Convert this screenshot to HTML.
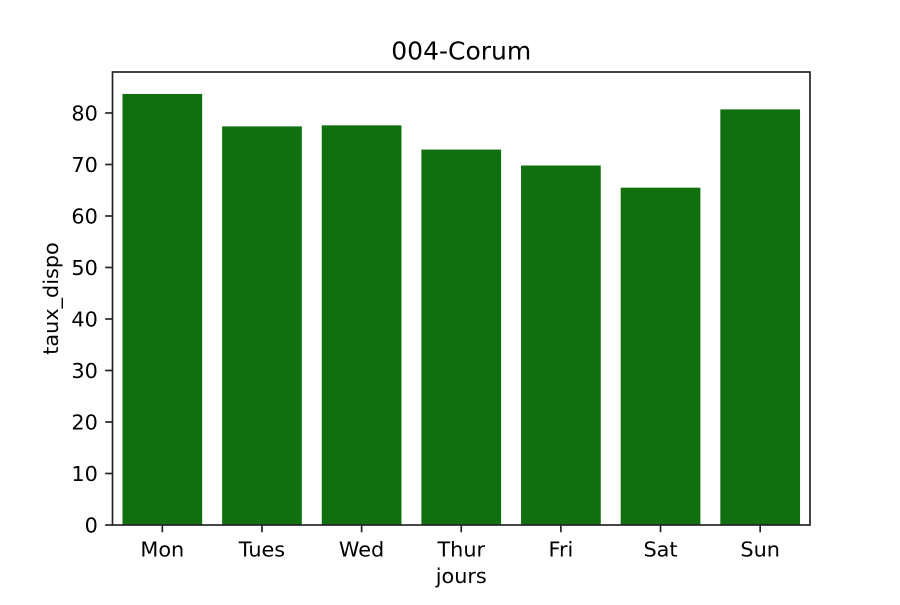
<!DOCTYPE html>
<html><head><meta charset="utf-8"><style>
body{margin:0;background:#fff;}
svg text{font-family:"DejaVu Sans","Liberation Sans",sans-serif;fill:#000;}
</style></head><body>
<svg id="chart" width="900" height="600" viewBox="0 0 900 600">
<rect width="900" height="600" fill="#fff"/>
<g id="marks"></g>
<g id="axes"></g>
</svg>
<script>
const categories = ["Mon","Tues","Wed","Thur","Fri","Sat","Sun"];
const values = [83.7, 77.4, 77.6, 72.9, 69.8, 65.5, 80.7];
const yTicks = [0,10,20,30,40,50,60,70,80];
const title = "004-Corum";
const xLabel = "jours";
const yLabel = "taux_dispo";

const L=112.5, R=810, T=72, B=525, yMax=87.96;
const NS="http://www.w3.org/2000/svg";
const marks=document.getElementById('marks'), axes=document.getElementById('axes');
const step=(R-L)/categories.length;
const x=i=>L+step*(i+0.5);
const y=v=>B-(B-T)*v/yMax;
function mk(tag,attrs,parent){const e=document.createElementNS(NS,tag);for(const k in attrs)e.setAttribute(k,attrs[k]);parent.appendChild(e);return e;}

values.forEach((v,i)=>{
  const w=step*0.8;
  const r=mk('rect',{x:x(i)-w/2,y:y(v),width:w,height:B-y(v),fill:'#107010'},marks);
  
  
  const t=mk('line',{x1:x(i),x2:x(i),y1:B,y2:B+7.3,stroke:'#222','stroke-width':1.67},axes);
  
  
  const lb=mk('text',{x:x(i),y:B+31.5,'text-anchor':'middle',style:'font-size:20.8px'},axes);
  lb.textContent=categories[i];
  
  
});
yTicks.forEach(v=>{
  const t=mk('line',{x1:L-7.3,x2:L,y1:y(v),y2:y(v),stroke:'#222','stroke-width':1.67},axes);
  
  
  const lb=mk('text',{x:L-14.6,y:y(v)+7.5,'text-anchor':'end',style:'font-size:20.8px'},axes);
  lb.textContent=v;
  
  
});
const f=mk('rect',{x:L,y:T,width:R-L,height:B-T,fill:'none',stroke:'#222','stroke-width':1.67},axes);


const tt=mk('text',{x:(L+R)/2,y:T-12.5,'text-anchor':'middle',style:'font-size:25px'},axes);
tt.textContent=title;


const xl=mk('text',{x:(L+R)/2,y:583,'text-anchor':'middle',style:'font-size:20.8px'},axes);
xl.textContent=xLabel;


const yl=mk('text',{x:0,y:0,'text-anchor':'middle',style:'font-size:20.8px',transform:`translate(58,${(T+B)/2}) rotate(-90)`},axes);
yl.textContent=yLabel;


</script>
</body></html>
